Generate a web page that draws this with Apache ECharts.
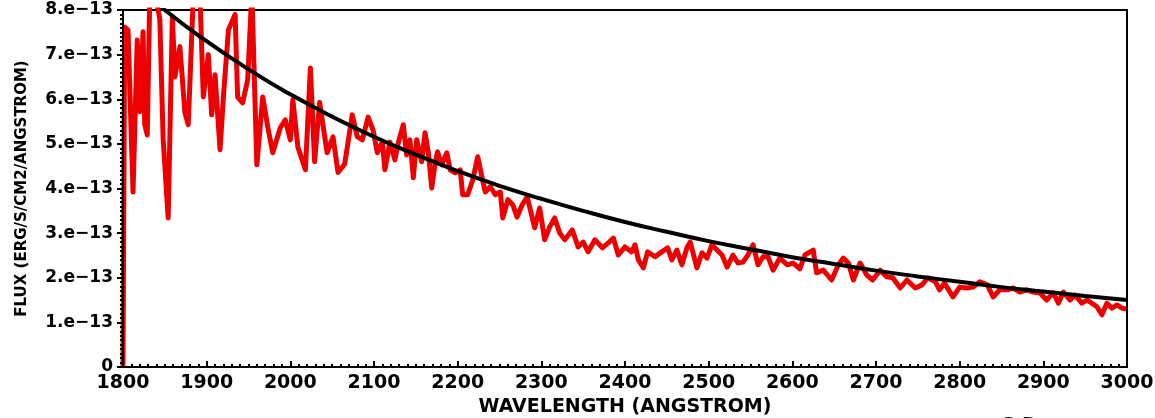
<!DOCTYPE html>
<html>
<head>
<meta charset="utf-8">
<script src="https://cdn.jsdelivr.net/npm/echarts@6/dist/echarts.min.js"></script>
<style>
html,body{margin:0;padding:0;background:#fff;}
#chart{width:1155px;height:418px;}
</style>
</head>
<body>
<div id="chart"></div>
<script>
// Observed spectrum: wavelength (Angstrom) and flux (units of 1e-13 erg/s/cm2/A)
const wavelength = [1800,1802,1806,1812,1817,1820,1824,1826,1829,1832,1841,1844,1848,1854,1859,1862,1868,1874,1878,1884,1892,1896,1902,1906,1910,1916,1920,1926,1934,1937,1943,1949,1954,1960,1967,1973,1979,1988,1994,2000,2003,2009,2018,2024,2029,2035,2044,2051,2057,2065,2074,2080,2086,2093,2099,2104,2110,2113,2119,2125,2129,2135,2139,2143,2147,2151,2157,2161,2165,2169,2173,2176,2181,2187,2191,2197,2203,2206,2212,2218,2224,2229,2233,2239,2245,2251,2254,2260,2266,2271,2277,2283,2286,2292,2298,2304,2310,2316,2322,2328,2337,2344,2350,2356,2364,2373,2380,2386,2392,2400,2408,2412,2416,2422,2427,2436,2444,2451,2456,2462,2468,2474,2478,2481,2486,2492,2498,2504,2510,2516,2522,2529,2535,2541,2547,2553,2559,2565,2571,2577,2585,2594,2601,2609,2615,2625,2629,2637,2647,2655,2661,2667,2673,2681,2689,2696,2705,2713,2720,2729,2737,2747,2755,2762,2771,2776,2782,2792,2800,2809,2816,2824,2833,2840,2848,2857,2864,2872,2880,2888,2896,2904,2912,2918,2924,2932,2938,2946,2952,2958,2964,2970,2976,2982,2988,2994,2999];
const flux = [0,7.62,7.55,3.92,7.33,5.72,7.51,5.43,5.2,8.3,8.1,7.8,5.1,3.34,7.85,6.5,7.18,5.7,5.43,8.3,8.3,6.05,7.0,5.65,6.55,4.87,6.05,7.55,7.9,6.05,5.92,6.43,8.4,4.53,6.05,5.38,4.8,5.36,5.54,5.09,5.99,4.93,4.42,6.7,4.6,5.93,4.8,5.16,4.36,4.55,5.65,5.16,5.09,5.6,5.3,4.8,5.04,4.42,5.04,4.64,5.02,5.43,4.75,5.09,4.24,5.09,4.6,5.25,4.8,4.01,4.57,4.82,4.53,4.8,4.42,4.35,4.42,3.86,3.86,4.19,4.71,4.26,3.92,4.04,3.86,3.92,3.34,3.75,3.63,3.36,3.63,3.81,3.59,3.12,3.56,2.85,3.14,3.34,3.0,2.85,3.07,2.69,2.8,2.58,2.85,2.67,2.78,2.89,2.51,2.69,2.58,2.74,2.4,2.22,2.58,2.47,2.58,2.67,2.4,2.62,2.29,2.67,2.8,2.58,2.22,2.56,2.44,2.74,2.62,2.51,2.24,2.51,2.33,2.35,2.51,2.74,2.29,2.47,2.47,2.17,2.44,2.29,2.33,2.2,2.51,2.62,2.11,2.17,1.95,2.29,2.44,2.33,1.95,2.33,2.06,1.95,2.17,2.02,2.0,1.77,1.95,1.77,1.84,2.0,1.91,1.73,1.88,1.57,1.79,1.77,1.79,1.91,1.84,1.57,1.73,1.73,1.77,1.68,1.73,1.68,1.66,1.5,1.66,1.43,1.68,1.5,1.61,1.43,1.5,1.43,1.35,1.17,1.43,1.32,1.39,1.32,1.3];

// Model continuum curve (units of 1e-13)
const modelWavelength = [1800,1850,1900,1950,2000,2050,2100,2150,2200,2250,2300,2350,2400,2450,2500,2550,2600,2650,2700,2750,2800,2850,2900,2950,3000];
const modelFlux = [8.8,8.0,7.3,6.67,6.11,5.61,5.16,4.76,4.39,4.06,3.77,3.5,3.25,3.03,2.82,2.64,2.46,2.31,2.16,2.03,1.91,1.79,1.69,1.59,1.5];

const xTicks = [1800,1900,2000,2100,2200,2300,2400,2500,2600,2700,2800,2900,3000];
const yTickLabels = ['0','1.e\u221213','2.e\u221213','3.e\u221213','4.e\u221213','5.e\u221213','6.e\u221213','7.e\u221213','8.e\u221213'];

const xTitle = 'WAVELENGTH (ANGSTROM)';
const yTitle = 'FLUX (ERG/S/CM2/ANGSTROM)';

const chart = echarts.init(document.getElementById('chart'), null, {renderer: 'canvas'});
const FONT = 'DejaVu Sans';

chart.setOption({
  animation: false,
  backgroundColor: '#fff',
  grid: {left: 123, right: 28, top: 10, bottom: 51, show: true, borderColor: '#000', borderWidth: 2,
    backgroundColor: 'transparent', containLabel: false, outerBoundsMode: 'none'},
  xAxis: {
    type: 'value', min: xTicks[0], max: xTicks[xTicks.length - 1], interval: 100, z: 5,
    name: xTitle, nameLocation: 'middle', nameGap: 31,
    nameTextStyle: {fontFamily: FONT, fontWeight: 'bold', fontSize: 19, color: '#000'},
    axisLine: {lineStyle: {color: '#000', width: 2}},
    axisTick: {inside: true, length: 6, lineStyle: {color: '#000', width: 2}},
    minorTick: {show: true, splitNumber: 10, length: 3, lineStyle: {color: '#000', width: 2}},
    splitLine: {show: false},
    axisLabel: {margin: 7, fontFamily: FONT, fontWeight: 'bold', fontSize: 19, color: '#000',
      formatter: v => String(Math.round(v))}
  },
  yAxis: {
    type: 'value', min: 0, max: 8, interval: 1, z: 5,
    name: yTitle, nameLocation: 'middle', nameGap: 93,
    nameTextStyle: {fontFamily: FONT, fontWeight: 'bold', fontSize: 15, color: '#000'},
    axisLine: {lineStyle: {color: '#000', width: 2}},
    axisTick: {inside: false, length: 6, lineStyle: {color: '#000', width: 2}},
    minorTick: {show: true, splitNumber: 10, length: 3, lineStyle: {color: '#000', width: 2}},
    splitLine: {show: false},
    axisLabel: {margin: 10, fontFamily: FONT, fontWeight: 'bold', fontSize: 17, color: '#000',
      formatter: v => yTickLabels[Math.round(v)]}
  },
  series: [
    {
      type: 'line', data: wavelength.map((w, i) => [w, flux[i]]),
      showSymbol: false, symbol: 'none', clip: true, z: 2,
      lineStyle: {color: '#ee0000', width: 5, join: 'round'}
    },
    {
      type: 'line', data: modelWavelength.map((w, i) => [w, modelFlux[i]]),
      showSymbol: false, symbol: 'none', smooth: true, clip: true, z: 3,
      lineStyle: {color: '#000', width: 4}
    }
  ],
  graphic: [
    {type: 'text', left: 1000, top: 416, style: {text: 'G-D', fontFamily: FONT, fontWeight: 'bold', fontSize: 18, fill: '#000'}}
  ]
});
</script>
</body>
</html>
